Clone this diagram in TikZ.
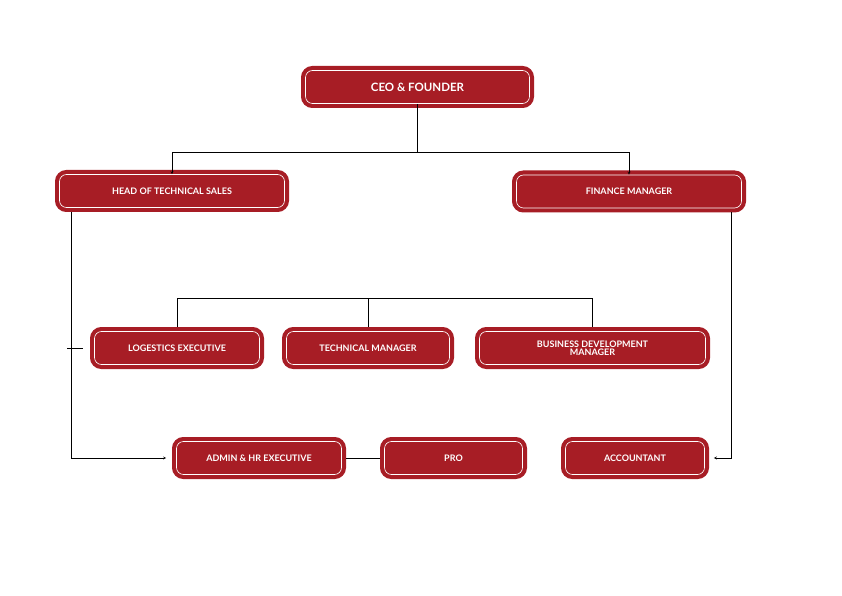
\documentclass[tikz,border=0pt]{standalone}
\usepackage{fontspec}
\setmainfont{Lato}
\usepackage{xcolor}
\usetikzlibrary{shapes,arrows,positioning}
\definecolor{boxred}{HTML}{A71D25}

\begin{document}
\begin{tikzpicture}[x=1pt, y=1pt]
    \tikzstyle{post} = [rectangle, rounded corners=7pt, draw=white, line width=0.6pt, fill=boxred, text=white, font=\bfseries\fontsize{9}{9}\selectfont, align=center, minimum height=33pt, inner sep=2pt, preaction={draw=boxred, line width=9pt}]
    \tikzstyle{arrow} = [thin,->,>=stealth]
    \tikzstyle{link} = [thin]
    \useasboundingbox (0,0) rectangle (842,595);

    % Top
    \node [post, minimum width=224pt, font=\bfseries\fontsize{11.5}{12}\selectfont] (ceo) at (417.5,508) {CEO \& FOUNDER};

    % Heads
    \node [post, minimum width=225pt] (sales) at (172,404) {HEAD OF TECHNICAL SALES};
    \node [post, minimum width=225pt] (finance) at (629,403.5) {FINANCE MANAGER};

    % Middle row
    \node [post, minimum width=165pt] (logistics) at (177,247) {LOGESTICS EXECUTIVE};
    \node [post, minimum width=163pt] (technical) at (368,247) {TECHNICAL MANAGER};
    \node [post, minimum width=226pt, font=\bfseries\fontsize{9}{8.5}\selectfont] (business) at (592.5,247) {BUSINESS DEVELOPMENT\\MANAGER};

    % Bottom row
    \node [post, minimum width=165pt] (admin) at (259,137) {ADMIN \& HR EXECUTIVE};
    \node [post, minimum width=138pt] (pro) at (453.5,137) {PRO};
    \node [post, minimum width=139pt] (accountant) at (635,137) {ACCOUNTANT};

    % Connectors
    \coordinate (split) at (417.5,443);
    \coordinate (bus) at (177,297);
    \coordinate (tick) at (83,247);
    \draw [link] (ceo.south) -- (split);
    \draw [arrow] (split) -| (sales.north);
    \draw [arrow] (split) -| (finance.north);
    \draw [arrow] (sales.south west) ++(12pt,-4pt) |- ([xshift=-10pt]admin.west);
    \draw [link] (67,247) -- (tick);
    \draw [arrow] (finance.south east) ++(-11pt,-4pt) |- ([xshift=9pt]accountant.east);
    \draw [link] (logistics.north) ++(0,4pt) -- (bus) -| ([yshift=4pt]business.north);
    \draw [link] ([yshift=4pt]technical.north) -- (technical.north |- bus);
    \draw [link] ([xshift=4pt]admin.east) -- ([xshift=-4pt]pro.west);
\end{tikzpicture}
\end{document}
